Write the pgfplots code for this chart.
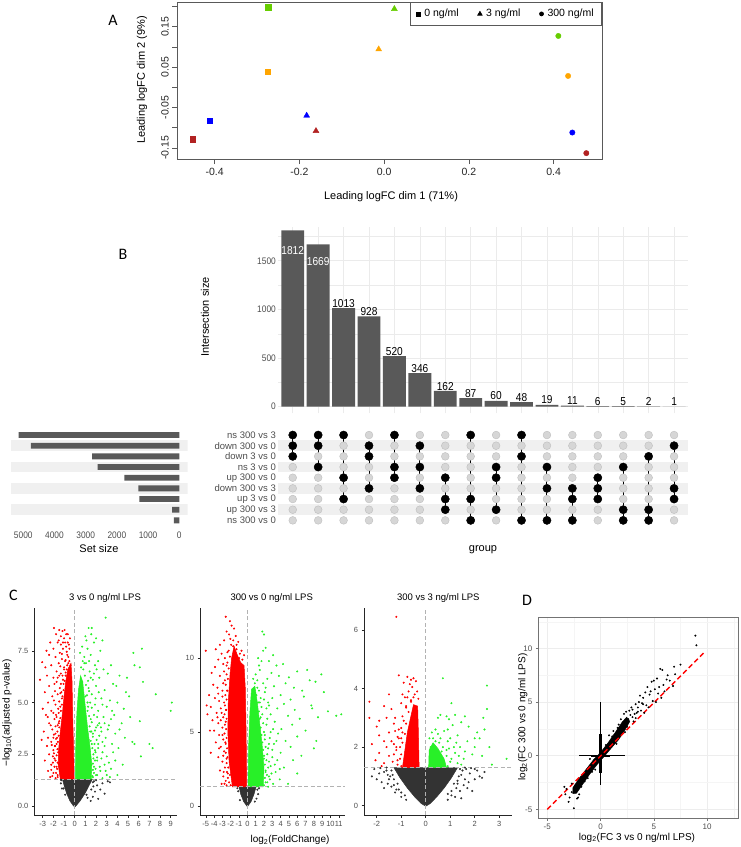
\documentclass[border=0pt]{standalone}
\usepackage{fontspec}
\setmainfont{Liberation Sans}
\newfontfamily\narrowsans[FakeStretch=0.88]{Liberation Sans}
\newfontfamily\calib{Carlito}
\usepackage{pgfplots}
\pgfplotsset{compat=1.18}
\newcommand{\fs}[1]{\fontsize{#1}{#1}\selectfont}
\definecolor{Agreen}{RGB}{102,205,0}
\definecolor{Aorange}{RGB}{255,165,0}
\definecolor{Ablue}{RGB}{0,0,255}
\definecolor{Ared}{RGB}{178,34,34}
\definecolor{bargrey}{RGB}{89,89,89}
\definecolor{gridgrey}{RGB}{235,235,235}
\definecolor{stripe}{RGB}{240,240,240}
\definecolor{dotgrey}{RGB}{214,214,214}
\definecolor{dotedge}{RGB}{190,190,190}
\definecolor{grey30}{RGB}{77,77,77}
\definecolor{vred}{RGB}{255,0,0}
\definecolor{vgreen}{RGB}{40,240,40}
\definecolor{vblack}{RGB}{51,51,51}
\pgfplotsset{
  base/.style={scale only axis, anchor=south west, /pgf/number format/assume math mode=true, /pgf/number format/1000 sep={}},
  volc/.style={base, axis lines*=left, axis line style={black!85, line width=0.6pt},
    tick align=outside, major tick length=2.5pt, every tick/.style={black!85, line width=0.5pt},
    ticklabel style={font=\fs{7.5}, color=grey30}, clip=true},
  rp/.style={only marks, mark=*, mark size=0.8pt, color=vred, mark options={draw=none}},
  gp/.style={only marks, mark=*, mark size=0.8pt, color=vgreen, mark options={draw=none}},
  bp/.style={only marks, mark=*, mark size=0.8pt, color=vblack, mark options={draw=none}},
  vdash/.style={gray!60, dash pattern=on 4pt off 2.5pt, line width=0.6pt},
}
\begin{document}
\begin{tikzpicture}
\path[use as bounding box] (0pt,0pt) rectangle (740pt,-847pt);

% ---------------- Panel A ----------------
\begin{axis}[base, at={(177pt,-159pt)}, width=425pt, height=157pt,
  xmin=-0.489, xmax=0.514, ymin=-0.1775, ymax=0.211,
  axis line style={black!65, line width=0.7pt},
  every tick/.style={black!65, line width=0.6pt},
  tick align=outside, major tick length=5pt, tick pos=left,
  xtick={-0.4,-0.2,0,0.2,0.4}, xticklabels={-0.4,-0.2,0.0,0.2,0.4},
  ytick={-0.15,-0.1,-0.05,0,0.05,0.1,0.15,0.2}, yticklabels={-0.15,,-0.05,,0.05,,0.15,},
  ticklabel style={font=\fs{10.5}, color=black!85},
  yticklabel style={rotate=90, anchor=south, inner sep=3pt},
  xticklabel style={inner sep=4pt},
  legend columns=3,
  legend style={at={(1,1)}, anchor=north east, draw=black!65, line width=0.7pt, font=\fs{10.5},
    inner xsep=6pt, inner ysep=5pt,
    /tikz/every odd column/.append style={column sep=2pt},
    /tikz/every even column/.append style={column sep=17pt}},
  legend cell align=left]
\addlegendimage{legend image code/.code={\draw[black, mark=square*, mark size=2pt, only marks] plot coordinates {(3pt,0pt)};}}
\addlegendentry{0 ng/ml}
\addlegendimage{legend image code/.code={\draw[black, mark=triangle*, mark size=2.5pt, only marks] plot coordinates {(3pt,0pt)};}}
\addlegendentry{3 ng/ml}
\addlegendimage{legend image code/.code={\draw[black, mark=*, mark size=2pt, only marks] plot coordinates {(3pt,0pt)};}}
\addlegendentry{300 ng/ml}
\addplot[only marks, mark=square*, mark size=2.8pt, color=Agreen, forget plot] coordinates {(-0.274,0.198)};
\addplot[only marks, mark=square*, mark size=2.8pt, color=Aorange, forget plot] coordinates {(-0.275,0.039)};
\addplot[only marks, mark=square*, mark size=2.8pt, color=Ablue, forget plot] coordinates {(-0.412,-0.083)};
\addplot[only marks, mark=square*, mark size=2.8pt, color=Ared, forget plot] coordinates {(-0.452,-0.129)};
\addplot[only marks, mark=triangle*, mark size=3.4pt, color=Agreen, forget plot] coordinates {(0.024,0.194)};
\addplot[only marks, mark=triangle*, mark size=3.4pt, color=Aorange, forget plot] coordinates {(-0.013,0.094)};
\addplot[only marks, mark=triangle*, mark size=3.4pt, color=Ablue, forget plot] coordinates {(-0.183,-0.070)};
\addplot[only marks, mark=triangle*, mark size=3.4pt, color=Ared, forget plot] coordinates {(-0.161,-0.108)};
\addplot[only marks, mark=*, mark size=2.7pt, color=Agreen, forget plot] coordinates {(0.411,0.127)};
\addplot[only marks, mark=*, mark size=2.7pt, color=Aorange, forget plot] coordinates {(0.434,0.028)};
\addplot[only marks, mark=*, mark size=2.7pt, color=Ablue, forget plot] coordinates {(0.444,-0.112)};
\addplot[only marks, mark=*, mark size=2.7pt, color=Ared, forget plot] coordinates {(0.477,-0.163)};
\end{axis}
\node[font=\fs{11}, rotate=90] at (142pt,-80pt) {Leading logFC dim 2 (9\%)};
\node[font=\fs{11}] at (391pt,-197pt) {Leading logFC dim 1 (71\%)};
\node[font=\calib\fs{16}] at (113pt,-20pt) {A};

% ---------------- Panel B: bars ----------------
\begin{axis}[base, at={(278pt,-413.3pt)}, width=410.3pt, height=186.6pt,
  xmin=0.42, xmax=16.56, ymin=-68, ymax=1850,
  axis line style={draw=none}, major tick length=0pt, minor tick length=0pt,
  xtick={1,...,16}, xticklabels={}, ytick={0,500,1000,1500}, minor ytick={250,750,1250,1750},
  grid=both, major grid style={gridgrey, line width=0.6pt}, minor grid style={gridgrey, line width=0.35pt},
  yticklabel style={font=\narrowsans\fs{9.5}, color=grey30, inner sep=2pt}]
\addplot[ybar, bar width=0.9, fill=bargrey, draw=none] coordinates {
(1,1812) (2,1669) (3,1013) (4,928) (5,520) (6,346) (7,162) (8,87) (9,60) (10,48) (11,19) (12,11) (13,6) (14,5) (15,2) (16,1)};
\node[font=\narrowsans\fs{11.5}, text=white] at (axis cs:1,1610) {1812};
\node[font=\narrowsans\fs{11.5}, text=white] at (axis cs:2,1497) {1669};
\begin{scope}[every node/.style={font=\narrowsans\fs{11.5}, anchor=south, inner sep=0.6pt}]
\node at (axis cs:3,1013) {1013};
\node at (axis cs:4,928) {928};
\node at (axis cs:5,520) {520};
\node at (axis cs:6,346) {346};
\node at (axis cs:7,162) {162};
\node at (axis cs:8,87) {87};
\node at (axis cs:9,60) {60};
\node at (axis cs:10,48) {48};
\node at (axis cs:11,19) {19};
\node at (axis cs:12,11) {11};
\node at (axis cs:13,6) {6};
\node at (axis cs:14,5) {5};
\node at (axis cs:15,2) {2};
\node at (axis cs:16,1) {1};
\end{scope}
\end{axis}
\node[font=\fs{11}, rotate=90] at (205pt,-317pt) {Intersection size};
\node[font=\calib\fs{16}] at (123pt,-254pt) {B};

% ---------------- Panel B: matrix ----------------
\begin{axis}[base, at={(278pt,-525.7pt)}, width=410.3pt, height=96pt,
  xmin=0.42, xmax=16.56, ymin=0.5, ymax=9.5, y dir=reverse,
  axis line style={draw=none}, major tick length=0pt, xtick=\empty,
  ytick={1,...,9},
  yticklabels={ns 300 vs 3, down 300 vs 0, down 3 vs 0, ns 3 vs 0, up 300 vs 0, down 300 vs 3, up 3 vs 0, up 300 vs 3, ns 300 vs 0},
  yticklabel style={font=\fs{9.5}, color=grey30, inner sep=2pt}]
\addplot[fill=stripe, draw=none] coordinates {(0.42,1.5) (16.56,1.5) (16.56,2.5) (0.42,2.5)} -- cycle;
\addplot[fill=stripe, draw=none] coordinates {(0.42,3.5) (16.56,3.5) (16.56,4.5) (0.42,4.5)} -- cycle;
\addplot[fill=stripe, draw=none] coordinates {(0.42,5.5) (16.56,5.5) (16.56,6.5) (0.42,6.5)} -- cycle;
\addplot[fill=stripe, draw=none] coordinates {(0.42,7.5) (16.56,7.5) (16.56,8.5) (0.42,8.5)} -- cycle;
\addplot[only marks, mark=*, mark size=3.9pt, mark options={fill=dotgrey, draw=dotedge, line width=0.4pt}] coordinates {
(1,1)(2,1)(3,1)(4,1)(5,1)(6,1)(7,1)(8,1)(9,1)(10,1)(11,1)(12,1)(13,1)(14,1)(15,1)(16,1)
(1,2)(2,2)(3,2)(4,2)(5,2)(6,2)(7,2)(8,2)(9,2)(10,2)(11,2)(12,2)(13,2)(14,2)(15,2)(16,2)
(1,3)(2,3)(3,3)(4,3)(5,3)(6,3)(7,3)(8,3)(9,3)(10,3)(11,3)(12,3)(13,3)(14,3)(15,3)(16,3)
(1,4)(2,4)(3,4)(4,4)(5,4)(6,4)(7,4)(8,4)(9,4)(10,4)(11,4)(12,4)(13,4)(14,4)(15,4)(16,4)
(1,5)(2,5)(3,5)(4,5)(5,5)(6,5)(7,5)(8,5)(9,5)(10,5)(11,5)(12,5)(13,5)(14,5)(15,5)(16,5)
(1,6)(2,6)(3,6)(4,6)(5,6)(6,6)(7,6)(8,6)(9,6)(10,6)(11,6)(12,6)(13,6)(14,6)(15,6)(16,6)
(1,7)(2,7)(3,7)(4,7)(5,7)(6,7)(7,7)(8,7)(9,7)(10,7)(11,7)(12,7)(13,7)(14,7)(15,7)(16,7)
(1,8)(2,8)(3,8)(4,8)(5,8)(6,8)(7,8)(8,8)(9,8)(10,8)(11,8)(12,8)(13,8)(14,8)(15,8)(16,8)
(1,9)(2,9)(3,9)(4,9)(5,9)(6,9)(7,9)(8,9)(9,9)(10,9)(11,9)(12,9)(13,9)(14,9)(15,9)(16,9)};
\addplot[black, line width=1pt] coordinates {(1,1)(1,3)};
\addplot[black, line width=1pt] coordinates {(2,1)(2,4)};
\addplot[black, line width=1pt] coordinates {(3,1)(3,7)};
\addplot[black, line width=1pt] coordinates {(4,2)(4,6)};
\addplot[black, line width=1pt] coordinates {(5,1)(5,5)};
\addplot[black, line width=1pt] coordinates {(6,2)(6,6)};
\addplot[black, line width=1pt] coordinates {(7,5)(7,8)};
\addplot[black, line width=1pt] coordinates {(8,1)(8,9)};
\addplot[black, line width=1pt] coordinates {(9,4)(9,8)};
\addplot[black, line width=1pt] coordinates {(10,1)(10,9)};
\addplot[black, line width=1pt] coordinates {(11,4)(11,9)};
\addplot[black, line width=1pt] coordinates {(12,6)(12,9)};
\addplot[black, line width=1pt] coordinates {(13,5)(13,7)};
\addplot[black, line width=1pt] coordinates {(14,4)(14,9)};
\addplot[black, line width=1pt] coordinates {(15,3)(15,9)};
\addplot[black, line width=1pt] coordinates {(16,2)(16,7)};
\addplot[only marks, mark=*, mark size=4.1pt, black] coordinates {
(1,1)(1,2)(1,3) (2,1)(2,2)(2,4) (3,1)(3,5)(3,7) (4,2)(4,3)(4,6) (5,1)(5,4)(5,5) (6,2)(6,4)(6,6)
(7,5)(7,7)(7,8) (8,1)(8,7)(8,9) (9,4)(9,5)(9,8) (10,1)(10,3)(10,9) (11,4)(11,6)(11,9) (12,6)(12,7)(12,9)
(13,5)(13,6)(13,7) (14,4)(14,8)(14,9) (15,3)(15,8)(15,9) (16,2)(16,6)(16,7)};
\end{axis}
\node[font=\fs{11}] at (483pt,-550pt) {group};

% ---------------- Panel B: set size ----------------
\begin{axis}[base, at={(11pt,-525.7pt)}, width=176.7pt, height=96pt,
  xmin=-269, xmax=5394, x dir=reverse, ymin=0.5, ymax=9.5, y dir=reverse,
  axis line style={draw=none}, major tick length=0pt, ytick=\empty,
  xtick={0,1000,2000,3000,4000,5000},
  xticklabel style={font=\narrowsans\fs{9.5}, color=grey30, yshift=-3pt},
  scaled x ticks=false]
\addplot[fill=stripe, draw=none] coordinates {(-269,1.5) (5394,1.5) (5394,2.5) (-269,2.5)} -- cycle;
\addplot[fill=stripe, draw=none] coordinates {(-269,3.5) (5394,3.5) (5394,4.5) (-269,4.5)} -- cycle;
\addplot[fill=stripe, draw=none] coordinates {(-269,5.5) (5394,5.5) (5394,6.5) (-269,6.5)} -- cycle;
\addplot[fill=stripe, draw=none] coordinates {(-269,7.5) (5394,7.5) (5394,8.5) (-269,8.5)} -- cycle;
\addplot[xbar, bar width=0.55, fill=bargrey, draw=none] coordinates {
(5149,1) (4756,2) (2790,3) (2619,4) (1761,5) (1311,6) (1280,7) (229,8) (172,9)};
\end{axis}
\node[font=\fs{11}] at (99pt,-549pt) {Set size};

% ---------------- Panel C1 ----------------
\begin{axis}[volc, at={(34.3pt,-815pt)}, width=142.4pt, height=206.7pt,
  xmin=-3.79, xmax=9.56, ymin=-0.43, ymax=9.55,
  xtick={-3,...,9}, ytick={0,2.5,5,7.5}, yticklabels={0.0,2.5,5.0,7.5}]
\addplot[fill=vblack, draw=vblack, line width=0.5pt] coordinates {(-1.15,1.3) (-1.0,1.0) (-0.75,0.6) (-0.45,0.25) (-0.15,0.03) (0,-0.05) (0.15,0.03) (0.5,0.25) (0.95,0.6) (1.35,1.0) (1.65,1.3)} -- cycle;
\addplot[bp] coordinates {(1.8,1.2)(2.1,1.0)(2.4,0.8)(1.9,0.7)(2.6,1.1)(3.1,1.2)(3.3,1.15)(2.8,0.6)(1.7,0.45)(-1.3,1.1)(-1.2,0.85)(2.2,0.35)(1.5,0.25)(1.75,0.95)(2.0,1.25)(-1.25,1.25)(1.2,0.4)(-1.3,1.28)(1.7,1.15)(1.55,0.8)(1.1,0.55)(-0.9,0.55)(-1.05,0.85)};
\addplot[fill=vred, draw=vred, line width=0.5pt] coordinates {(-1.35,1.3) (-1.55,2.0) (-1.5,2.8) (-1.35,3.6) (-1.15,4.5) (-1.0,5.3) (-0.85,6.0) (-0.65,6.6) (-0.35,6.9) (-0.25,6.0) (-0.2,4.5) (-0.12,3.0) (-0.05,1.3)} -- cycle;
\addplot[rp] coordinates {(-1.95,8.6)(-1.45,8.5)(-1.15,8.45)(-1.0,8.1)(-1.3,8.2)(-1.6,7.9)(-0.9,7.9)(-1.1,7.6)(-0.8,7.7)(-1.4,7.4)(-2.0,7.6)(-2.65,7.5)(-3.05,6.95)(-2.4,7.3)(-1.8,7.2)(-1.2,7.1)(-0.7,7.3)(-0.9,7.0)(-1.5,6.9)(-2.2,6.8)(-1.0,6.7)(-0.75,6.6)(-1.7,6.5)(-1.3,6.4)(-2.6,6.3)(-3.25,6.1)(-2.0,6.2)(-1.1,6.1)(-0.6,6.9)(-1.9,5.9)(-2.4,5.8)(-1.4,5.7)(-2.8,5.5)(-1.6,5.4)(-2.1,5.3)(-1.2,5.2)(-2.5,5.0)(-1.8,4.9)(-3.0,4.7)(-2.2,4.6)(-1.5,4.5)(-2.7,4.4)(-1.9,4.2)(-2.4,4.0)(-1.6,3.9)(-2.1,3.7)(-2.9,3.6)(-1.8,3.5)(-2.5,3.3)(-3.1,3.2)(-2.2,3.1)(-1.7,3.0)(-2.6,2.9)(-2.0,2.7)(-2.4,2.5)(-1.9,2.3)(-2.8,2.2)(-2.2,2.0)(-1.7,1.9)(-2.5,1.7)(-2.0,1.6)(-1.6,1.5)(-2.3,1.4)(-1.8,1.35)(-1.55,2.6)(-1.65,3.3)(-1.45,4.1)(-1.35,4.8)(-1.25,5.5)(-1.05,5.9)(-0.85,6.3)(-0.5,7.0)(-0.55,7.8)(-0.65,8.3)(-0.4,6.8)(-2.75,6.7)(-2.3,7.9)(-1.75,8.3)(-0.95,8.5)(-1.3,7.8)(-2.53,4.3)(-1.75,4.4)(-1.85,2.9)(-2.05,2.1)(-1.7,6.0)(-1.45,6.3)
(-1.6,1.4)(-1.75,1.6)(-1.65,1.8)(-1.9,1.9)(-1.6,2.1)(-1.8,2.2)(-1.7,2.45)(-1.95,2.55)(-1.62,2.75)(-1.85,2.9)(-1.58,3.1)(-1.75,3.25)(-1.5,3.4)(-1.95,3.45)(-1.62,3.6)(-1.45,3.8)(-1.8,3.85)(-1.5,4.0)(-1.35,4.25)(-1.7,4.3)(-1.3,4.6)(-1.55,4.7)(-1.2,4.9)(-1.45,5.05)(-1.15,5.3)(-1.35,5.45)(-1.05,5.6)(-1.3,5.9)(-0.95,6.05)(-1.15,6.3)(-0.85,6.45)(-1.0,6.6)(-0.7,6.8)(-0.85,7.05)(-0.6,7.2)(-0.75,7.45)(-0.5,7.6)(-0.65,7.9)(-0.45,8.1)(-0.8,8.3)(-2.1,1.45)(-2.2,1.75)(-2.05,2.4)(-2.15,2.95)(-2.0,3.3)(-2.25,3.9)(-2.0,4.5)(-1.95,5.1)(-1.85,5.55)(-1.6,6.2)(-1.35,6.75)(-1.2,7.35)(-1.1,7.9)(-1.5,8.0)};
\addplot[fill=vgreen, draw=vgreen, line width=0.5pt] coordinates {(0.05,1.3) (0.1,3.0) (0.2,4.5) (0.35,5.6) (0.55,6.3) (0.75,6.0) (0.95,5.0) (1.2,3.8) (1.45,2.8) (1.6,2.0) (1.55,1.3)} -- cycle;
\addplot[gp] coordinates {(2.9,9.1)(1.3,8.6)(1.6,8.6)(1.55,8.3)(1.0,8.2)(2.0,8.1)(1.8,7.9)(6.3,7.6)(5.5,7.4)(2.4,7.5)(1.2,7.6)(1.5,7.3)(0.9,7.2)(2.2,7.0)(1.9,6.8)(5.6,6.8)(6.1,6.7)(2.7,6.6)(1.4,6.5)(4.2,6.3)(3.1,6.4)(0.8,6.6)(2.3,6.2)(1.7,6.1)(6.4,6.0)(3.6,5.9)(2.0,5.8)(1.3,5.7)(2.8,5.6)(4.8,5.5)(7.6,5.4)(9.1,5.0)(5.1,5.3)(1.6,5.4)(2.5,5.2)(3.3,5.1)(4.0,5.0)(1.9,4.9)(3.0,4.8)(4.6,4.7)(9.0,4.6)(2.2,4.6)(5.2,4.3)(3.7,4.4)(2.7,4.3)(1.5,4.2)(6.1,4.1)(4.4,4.0)(3.2,3.9)(2.0,3.8)(2.5,3.6)(3.8,3.5)(4.7,3.3)(1.7,3.5)(2.9,3.3)(5.4,3.1)(5.6,3.0)(7.0,3.0)(7.3,2.8)(3.5,3.0)(2.2,3.0)(4.1,2.8)(1.9,2.7)(2.6,2.6)(3.0,2.4)(6.2,2.4)(3.8,2.2)(2.1,2.2)(4.5,2.0)(2.8,2.0)(1.8,1.9)(3.4,1.8)(2.4,1.7)(2.0,1.5)(3.0,1.5)(1.7,1.4)(2.6,1.35)(4.0,1.5)(1.4,2.5)(1.3,3.2)(1.2,4.6)(1.0,5.3)(0.7,6.0)(0.9,6.9)(1.1,8.0)(3.4,6.8)(2.6,8.0)(3.9,5.8)(4.9,6.2)(3.5,4.6)(1.75,2.3)(1.6,3.0)(1.45,3.6)(1.2,5.0)(2.3,4.0)(2.6,4.9)
(1.65,1.45)(1.8,1.6)(1.7,1.75)(1.95,1.8)(1.7,2.05)(1.9,2.2)(2.1,2.35)(1.75,2.5)(1.95,2.6)(1.65,2.8)(2.2,2.8)(1.85,3.0)(1.5,3.15)(2.05,3.2)(1.7,3.35)(2.3,3.4)(1.55,3.6)(1.9,3.65)(1.4,3.85)(2.15,3.9)(1.6,4.05)(1.35,4.35)(1.8,4.4)(1.25,4.8)(1.6,4.75)(1.45,5.0)(1.15,5.35)(1.35,5.55)(1.05,5.85)(1.25,6.05)(0.95,6.3)(1.5,6.2)(0.6,6.7)(0.75,7.0)(0.5,7.4)(1.05,6.9)(0.7,7.7)(1.35,7.0)(2.1,1.5)(2.35,1.9)(2.5,2.3)(2.6,3.1)(2.45,3.8)(2.1,4.3)(1.95,5.2)(2.25,5.5)(1.8,6.4)(2.05,6.6)(3.2,2.1)(3.6,2.6)(2.8,2.9)(3.1,3.7)(2.8,4.0)(3.4,4.2)(4.2,3.7)(3.3,1.4)(2.9,1.7)};
\addplot[vdash] coordinates {(-3.79,1.3) (9.56,1.3)};
\addplot[vdash] coordinates {(0,-0.43) (0,9.55)};
\end{axis}
\node[font=\fs{9.5}] at (105pt,-598.3pt) {3 vs 0 ng/ml LPS};
\node[font=\fs{10}, rotate=90] at (7pt,-713pt) {−log\textsubscript{10}(adjusted p-value)};
\node[font=\calib\fs{16}] at (13.3pt,-595pt) {C};

% ---------------- Panel C2 ----------------
\begin{axis}[volc, at={(200pt,-815pt)}, width=145pt, height=206.7pt,
  xmin=-5.7, xmax=11.75, ymin=-0.61, ymax=13.37,
  xtick={-5,...,11}, ytick={0,5,10}]
\addplot[fill=vblack, draw=vblack, line width=0.5pt] coordinates {(-1.0,1.3) (-0.8,0.8) (-0.45,0.3) (0,-0.05) (0.45,0.3) (0.8,0.8) (1.05,1.3)} -- cycle;
\addplot[bp] coordinates {(1.2,1.1)(1.3,0.8)(1.1,0.5)(-1.1,1.0)(-1.2,1.2)(1.4,1.2)(0.9,0.3)(-0.9,0.4)};
\addplot[fill=vred, draw=vred, line width=0.5pt] coordinates {(-1.8,1.3) (-2.2,3) (-2.35,5) (-2.3,7) (-2.1,8.8) (-1.9,10.0) (-1.6,10.8) (-1.2,10.2) (-0.8,9.7) (-0.4,9.5) (-0.25,8) (-0.15,5) (-0.08,1.3)} -- cycle;
\addplot[rp] coordinates {(-2.6,12.8)(-1.9,12.2)(-1.6,12.0)(-2.2,11.6)(-1.4,11.5)(-2.8,11.2)(-1.1,11.1)(-3.8,10.6)(-5.0,10.5)(-3.1,10.3)(-3.5,9.9)(-2.9,9.6)(-4.3,9.0)(-3.3,8.8)(-4.1,8.2)(-3.6,8.0)(-3.0,7.8)(-4.6,7.5)(-3.9,7.3)(-3.4,7.1)(-4.4,6.7)(-3.2,6.6)(-3.7,6.3)(-4.8,6.2)(-2.9,6.0)(-4.2,5.8)(-3.5,5.6)(-3.0,5.3)(-4.0,5.1)(-3.4,4.8)(-2.9,4.5)(-3.8,4.3)(-3.2,4.0)(-2.8,3.7)(-4.4,3.6)(-3.5,3.3)(-3.0,3.0)(-2.7,2.6)(-3.3,2.4)(-2.9,2.0)(-2.6,1.7)(-3.1,1.5)(-2.5,1.4)(-4.9,6.8)(-4.5,5.1)(-3.9,9.4)(-3.3,10.9)(-2.5,11.8)(-2.1,12.5)(-1.3,10.6)(-0.9,10.3)(-1.7,10.8)(-2.0,9.0)(-2.7,8.5)(-2.8,7.0)(-2.6,4.2)(-2.6,5.7)(-2.5,9.5)(-2.45,7.8)(-2.55,6.5)(-2.5,3.2)(-2.35,2.2)(-2.4,10.4)
(-2.0,1.4)(-2.2,1.6)(-2.35,1.9)(-2.1,2.1)(-2.45,2.3)(-2.3,2.6)(-2.5,2.9)(-2.4,3.3)(-2.6,3.6)(-2.45,3.9)(-2.65,4.3)(-2.5,4.6)(-2.75,4.9)(-2.55,5.2)(-2.7,5.5)(-2.5,5.9)(-2.75,6.2)(-2.55,6.5)(-2.7,6.8)(-2.5,7.2)(-2.65,7.5)(-2.4,7.8)(-2.6,8.2)(-2.35,8.6)(-2.5,8.9)(-2.25,9.3)(-2.4,9.7)(-2.1,10.1)(-2.25,10.5)(-1.95,10.9)(-2.05,11.3)(-1.7,11.2)(-1.3,10.9)(-1.0,10.0)(-0.6,9.9)(-0.4,10.2)(-0.7,10.5)(-2.9,3.4)(-3.0,4.8)(-3.1,6.3)(-3.0,7.4)(-2.9,8.3)(-2.8,9.1)(-2.7,10.0)(-3.2,5.8)(-2.85,2.3)(-2.75,1.5)(-3.4,3.9)(-3.6,6.0)(-3.5,7.6)};
\addplot[fill=vgreen, draw=vgreen, line width=0.5pt] coordinates {(0.08,1.3) (0.15,4.0) (0.3,6.3) (0.5,7.9) (0.9,8.1) (1.2,7.0) (1.5,5.5) (1.8,4.0) (2.0,2.5) (1.9,1.3)} -- cycle;
\addplot[gp] coordinates {(1.8,11.8)(2.0,11.6)(1.9,10.5)(2.2,10.7)(1.3,10.0)(2.6,9.8)(3.5,9.5)(4.3,9.6)(1.5,9.2)(2.9,9.0)(3.8,8.8)(7.2,9.2)(6.0,9.1)(7.5,8.5)(5.0,8.7)(2.4,8.6)(4.6,8.3)(3.2,8.1)(5.6,8.0)(6.6,7.8)(8.2,8.4)(2.1,7.7)(4.0,7.5)(3.0,7.3)(5.2,7.2)(6.8,7.4)(2.5,7.0)(4.4,6.9)(3.6,6.6)(5.7,6.5)(7.7,6.8)(8.5,6.0)(2.8,6.2)(4.9,6.1)(6.3,5.9)(3.3,5.7)(5.4,5.5)(2.3,5.5)(4.1,5.2)(7.0,5.1)(3.7,4.9)(6.0,4.7)(2.7,4.6)(4.6,4.4)(8.3,4.4)(3.2,4.2)(5.2,4.0)(8.0,3.9)(2.5,3.9)(4.0,3.6)(6.5,3.4)(3.0,3.3)(5.5,3.1)(2.8,2.7)(4.4,2.6)(3.4,2.3)(6.0,2.2)(2.6,2.0)(3.9,1.8)(4.9,1.5)(3.1,1.5)(2.4,1.6)(11.3,6.2)(10.7,6.1)(9.2,7.7)(9.7,6.4)(7.8,6.6)(8.9,8.9)(1.5,7.0)(1.2,8.0)(1.6,6.0)(2.1,4.8)(2.0,3.2)(1.4,9.5)(3.1,10.2)(2.2,2.3)(2.3,6.6)(1.9,8.3)
(2.0,1.4)(2.2,1.6)(2.1,1.9)(2.35,2.1)(2.2,2.4)(2.5,2.6)(2.1,2.8)(2.3,3.1)(2.0,3.4)(2.4,3.5)(1.9,3.8)(2.2,4.0)(1.8,4.3)(2.1,4.5)(1.7,4.8)(2.0,5.0)(1.6,5.3)(1.9,5.6)(1.5,5.9)(1.8,6.2)(1.4,6.4)(1.7,6.7)(1.3,7.0)(1.6,7.3)(1.1,7.5)(1.4,7.8)(0.9,8.3)(1.2,8.5)(0.7,8.6)(1.0,8.9)(2.7,1.8)(2.9,2.2)(2.6,3.0)(3.0,3.8)(2.6,4.2)(2.8,5.0)(2.4,5.9)(2.6,6.8)(2.0,7.2)(2.2,8.0)(3.3,2.8)(3.5,4.4)(3.1,5.2)(3.9,2.5)(3.6,3.1)(1.7,9.8)(2.5,1.3)};
\addplot[vdash] coordinates {(-5.7,1.3) (11.75,1.3)};
\addplot[vdash] coordinates {(0,-0.61) (0,13.37)};
\end{axis}
\node[font=\fs{9.5}] at (271.7pt,-598.3pt) {300 vs 0 ng/ml LPS};
\node[font=\fs{10}] at (290pt,-840pt) {log\textsubscript{2}(FoldChange)};

% ---------------- Panel C3 ----------------
\begin{axis}[volc, at={(364pt,-815pt)}, width=147.7pt, height=206.7pt,
  xmin=-2.52, xmax=3.51, ymin=-0.32, ymax=6.74,
  xtick={-2,...,3}, ytick={0,2,4,6}]
\addplot[fill=vblack, draw=vblack, line width=0.5pt] coordinates {(-1.3,1.3) (-1.05,0.95) (-0.75,0.6) (-0.45,0.3) (-0.18,0.07) (0,-0.02) (0.18,0.07) (0.45,0.3) (0.75,0.6) (1.05,0.95) (1.3,1.3)} -- cycle;
\addplot[bp] coordinates {(-2.0,0.9)(-1.9,1.1)(-1.8,0.8)(-1.6,1.2)(-1.5,0.9)(-1.7,0.6)(-1.4,0.65)(-1.25,0.45)(-2.1,1.25)(1.5,1.2)(1.6,0.9)(1.8,1.1)(2.0,0.9)(2.1,1.2)(2.3,0.95)(1.7,0.6)(1.4,0.5)(1.3,0.75)(1.9,0.5)(1.2,0.3)(2.2,1.0)(1.45,0.25)(-1.0,0.3)(-1.3,0.9)(-1.55,1.05)(1.65,1.25)(-1.1,0.55)(1.05,0.35)(0.9,0.2)(-0.8,0.2)(2.4,1.15)(-2.2,1.0)(1.75,0.8)
(-1.6,1.3)(-1.7,1.15)(-1.45,1.0)(-1.3,0.7)(-1.55,0.75)(-1.2,0.55)(-1.0,0.45)(-0.85,0.35)(1.6,1.3)(1.45,1.05)(1.3,0.85)(1.25,0.6)(1.05,0.5)(0.9,0.4)(1.55,0.7)(-1.85,1.28)(1.85,1.28)(2.0,1.25)(-1.4,1.2)(-1.35,1.05)(1.4,1.25)(1.35,1.0)(-1.15,0.75)(1.15,0.75)};
\addplot[fill=vred, draw=vred, line width=0.5pt] coordinates {(-0.95,1.3) (-0.85,1.9) (-0.75,2.5) (-0.62,3.0) (-0.5,3.45) (-0.33,3.4) (-0.3,2.5) (-0.27,1.3)} -- cycle;
\addplot[rp] coordinates {(-1.2,6.45)(-1.1,4.45)(-0.75,4.4)(-0.6,4.3)(-0.5,4.35)(-0.9,4.2)(-0.4,4.25)(-2.3,3.55)(-1.7,3.4)(-1.4,3.3)(-1.0,3.5)(-0.8,3.4)(-1.9,2.9)(-2.0,2.7)(-1.6,3.0)(-1.25,3.0)(-1.5,2.5)(-1.9,2.4)(-1.1,2.6)(-2.2,2.1)(-1.7,2.2)(-1.3,2.1)(-1.0,2.3)(-1.9,1.8)(-1.5,1.7)(-1.2,1.9)(-2.05,1.55)(-1.7,1.45)(-1.35,1.5)(-1.05,1.6)(-0.95,3.8)(-0.7,3.9)(-0.5,3.7)(-1.5,3.8)(-1.3,2.8)(-0.9,2.9)(-1.6,2.0)(-2.3,3.0)(-1.8,1.35)(-1.15,1.4)(-1.05,2.0)(-0.95,2.5)(-1.15,2.35)(-0.85,3.7)(-0.6,3.6)
(-1.0,1.35)(-1.15,1.55)(-1.0,1.75)(-1.2,2.0)(-0.95,2.15)(-1.1,2.3)(-0.85,2.45)(-1.0,2.65)(-0.8,2.8)(-0.95,3.05)(-0.7,3.2)(-0.8,3.35)(-0.6,3.55)(-0.75,3.7)(-0.45,3.8)(-0.55,4.05)(-0.35,3.9)(-0.3,3.65)(-1.3,1.75)(-1.4,2.2)(-1.25,2.55)(-0.65,4.15)};
\addplot[fill=vgreen, draw=vgreen, line width=0.5pt] coordinates {(0.12,1.3) (0.14,1.9) (0.3,2.15) (0.5,1.95) (0.75,1.6) (0.85,1.3)} -- cycle;
\addplot[gp] coordinates {(0.7,4.35)(2.5,4.1)(1.05,3.5)(0.6,3.1)(0.85,3.05)(0.5,3.0)(1.2,3.1)(0.95,2.95)(1.6,3.05)(2.5,3.3)(2.35,3.0)(2.4,2.6)(2.1,2.5)(0.4,2.6)(0.75,2.55)(1.3,2.4)(2.2,2.3)(1.7,2.2)(1.0,2.3)(0.6,2.3)(2.6,2.0)(2.0,2.0)(1.4,2.0)(1.2,1.8)(0.85,1.9)(1.9,1.75)(1.55,1.6)(2.3,1.7)(1.0,1.5)(1.3,1.45)(0.7,1.5)(3.3,1.6)(2.7,1.4)(0.45,1.9)(0.3,2.3)(1.75,2.7)(1.45,2.85)(0.9,2.6)(2.0,2.3)(1.1,2.75)(0.95,1.95)(0.65,1.85)
(0.9,1.35)(1.05,1.6)(0.85,1.7)(1.15,2.0)(0.7,2.0)(0.55,2.15)(0.4,2.2)(1.25,2.15)(0.9,2.2)(0.25,2.5)(0.2,2.0)(0.5,2.45)(1.45,1.4)(1.6,1.85)(1.35,1.7)(0.15,2.3)};
\addplot[vdash] coordinates {(-2.52,1.3) (3.51,1.3)};
\addplot[vdash] coordinates {(0,-0.32) (0,6.74)};
\end{axis}
\node[font=\fs{9.5}] at (438.3pt,-598.3pt) {300 vs 3 ng/ml LPS};

% ---------------- Panel D ----------------
\begin{axis}[base, at={(538.3pt,-818.3pt)}, width=199.5pt, height=200.6pt,
  xmin=-5.84, xmax=12.88, ymin=-5.84, ymax=12.87,
  xtick={-5,0,5,10}, ytick={-5,0,5,10}, minor xtick={-2.5,2.5,7.5,12.5}, minor ytick={-2.5,2.5,7.5,12.5},
  grid=both, major grid style={gray!14, line width=0.5pt}, minor grid style={gray!8, line width=0.35pt},
  axis line style={black!55, line width=0.6pt}, tick align=outside, major tick length=2.5pt, minor tick length=0pt,
  every tick/.style={black!55}, tick pos=left,
  ticklabel style={font=\fs{8}, color=grey30}]
\addplot[fill=black, draw=black, line width=0.4pt] coordinates {(-2.6,-3.0) (-2.0,-2.1) (-1.3,-1.2) (-0.6,-0.3) (0,0.3) (0.7,1.2) (1.4,2.2) (2.0,3.1) (2.45,3.6) (2.75,3.2) (2.3,2.4) (1.7,1.5) (1.0,0.7) (0.4,0) (-0.3,-0.8) (-1.0,-1.7) (-1.7,-2.7) (-2.25,-3.5) (-2.6,-3.55)} -- cycle;
\addplot[black, line width=1.1pt] coordinates {(0,-2.7) (0,5.0)};
\addplot[black, line width=2.2pt] coordinates {(0,-1.6) (0,2.0)};
\addplot[black, line width=1.1pt] coordinates {(-2.0,0) (2.3,0)};
\addplot[black, line width=2.0pt] coordinates {(-0.9,0) (0.9,0)};
\addplot[only marks, mark=*, mark size=0.75pt, black] coordinates {(8.9,11.2)(9.0,10.3)(7.5,8.5)(6.9,8.3)(5.6,8.1)(5.8,8.0)(5.0,7.0)(4.8,6.9)(5.3,7.2)(6.2,7.1)(6.5,7.0)(4.4,6.4)(5.1,6.2)(5.9,6.6)(3.7,5.6)(4.2,5.9)(4.0,5.4)(4.6,5.7)(5.4,5.8)(5.7,5.4)(3.3,4.8)(3.9,4.9)(4.3,4.7)(4.9,5.1)(3.0,4.3)(3.5,4.5)(3.2,3.9)(3.8,4.2)(4.5,4.5)(2.8,3.8)(3.4,4.0)(2.9,4.5)(3.6,5.0)(2.6,3.4)(3.0,3.6)(4.1,4.0)(5.2,5.0)(6.0,6.0)(6.8,6.5)(2.4,4.1)(2.2,3.9)(3.1,3.2)(6.3,7.5)(7.0,7.6)(-2.5,-4.9)(-3.0,-4.3)(-2.9,-3.9)(-3.3,-3.6)(-2.7,-3.4)(-2.2,-4.0)(-2.0,-3.6)(-3.2,-3.1)(-2.4,-2.8)(-3.4,-2.9)(-1.8,-2.9)(-2.7,-2.6)(-2.1,-3.9)(-1.0,-0.3)(1.5,1.1)(2.0,2.9)(1.7,2.9)(0.8,1.9)(-0.5,-1.3)(-1.2,-2.1)(2.3,2.2)(1.2,2.3)(3.3,3.5)(2.7,4.2)(1.9,3.4)(2.5,2.7)(1.1,1.8)(-1.5,-2.4)(-0.8,-1.5)(0.5,1.0)(1.6,2.6)(2.2,3.0)(3.5,4.1)(4.0,4.8)(4.7,6.0)(5.5,6.4)};
\addplot[red, dashed, dash pattern=on 5pt off 3pt, line width=1.4pt] coordinates {(-5,-5) (9.7,9.6)};
\end{axis}
\node[font=\fs{10}] at (637pt,-837.5pt) {log\textsubscript{2}(FC 3 vs 0 ng/ml LPS)};
\node[font=\fs{10}, rotate=90] at (522.7pt,-717pt) {log\textsubscript{2}(FC 300 vs 0 ng/ml LPS)};
\node[font=\calib\fs{16}] at (527pt,-600.7pt) {D};
\end{tikzpicture}
\end{document}
